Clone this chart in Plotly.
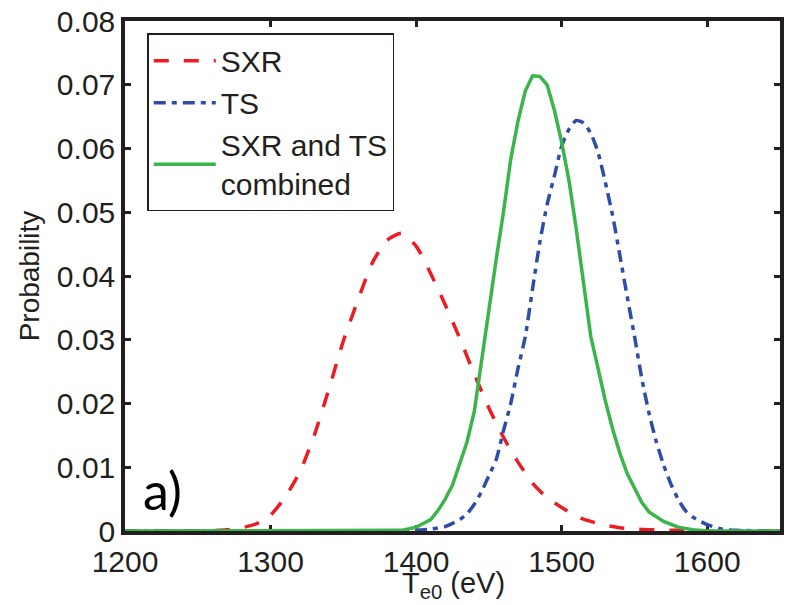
import plotly.graph_objects as go

# SXR estimate (red dashed)
sxr_x = [1200, 1250, 1270, 1280, 1290, 1300, 1310, 1320, 1330, 1340, 1350, 1360, 1370,
         1380, 1390, 1400, 1410, 1420, 1430, 1440, 1450, 1460, 1470, 1480, 1490, 1500,
         1510, 1520, 1530, 1540, 1550, 1560, 1580, 1600, 1650]
sxr_y = [0, 0, 0.0002, 0.0005, 0.0011, 0.0025, 0.0053, 0.0092, 0.0150, 0.0222, 0.0298,
         0.0362, 0.0421, 0.0456, 0.0467, 0.0447, 0.0404, 0.0355, 0.0302, 0.0246, 0.0193,
         0.0147, 0.0108, 0.0075, 0.0052, 0.0037, 0.0023, 0.0015, 0.0009, 0.0005, 0.0003,
         0.0002, 0.0001, 0, 0]

# TS estimate (blue dash-dot)
ts_x = [1200, 1380, 1400, 1410, 1420, 1425, 1430, 1435, 1440, 1445, 1450, 1455, 1460,
        1465, 1470, 1475, 1480, 1485, 1490, 1495, 1500, 1505, 1510, 1515, 1520, 1525,
        1530, 1535, 1540, 1545, 1550, 1555, 1560, 1565, 1570, 1575, 1580, 1585, 1590,
        1600, 1610, 1620, 1650]
ts_y = [0, 0, 0.0001, 0.0003, 0.0007, 0.0012, 0.0018, 0.0027, 0.0042, 0.0062, 0.0087,
        0.0112, 0.0157, 0.0200, 0.0255, 0.0305, 0.0380, 0.0453, 0.0512, 0.0557, 0.0604,
        0.0630, 0.0644, 0.0640, 0.0624, 0.0594, 0.0547, 0.0495, 0.0432, 0.0368, 0.0306,
        0.0240, 0.0185, 0.0140, 0.0104, 0.0074, 0.0050, 0.0032, 0.0022, 0.0010, 0.0003,
        0.0001, 0]

# Combined (green solid)
comb_x = [1200, 1380, 1390, 1400, 1410, 1415, 1420, 1425, 1430, 1435, 1440, 1445, 1450,
          1455, 1460, 1465, 1470, 1475, 1480, 1485, 1490, 1495, 1500, 1505, 1510, 1515,
          1520, 1525, 1530, 1535, 1540, 1545, 1550, 1555, 1560, 1570, 1580, 1590, 1600,
          1650]
comb_y = [0, 0, 0.0001, 0.0006, 0.0018, 0.0032, 0.0050, 0.0072, 0.0105, 0.0140, 0.0188,
          0.0270, 0.0353, 0.0426, 0.0500, 0.0583, 0.0643, 0.0690, 0.0714, 0.0713, 0.0700,
          0.0660, 0.0610, 0.0550, 0.0474, 0.0390, 0.0305, 0.0255, 0.0204, 0.0160, 0.0122,
          0.0090, 0.0066, 0.0045, 0.0030, 0.0015, 0.0006, 0.0002, 0, 0]

x_ticks = [1200, 1300, 1400, 1500, 1600]
y_ticks = [0, 0.01, 0.02, 0.03, 0.04, 0.05, 0.06, 0.07, 0.08]
y_tick_labels = ["0", "0.01", "0.02", "0.03", "0.04", "0.05", "0.06", "0.07", "0.08"]

FONT = "Liberation Sans, Arial, sans-serif"

fig = go.Figure()
fig.add_trace(go.Scatter(x=sxr_x, y=sxr_y, mode="lines", name="SXR",
                         line=dict(color="#ED1C24", width=3.5, dash="15px,15px",
                                   shape="spline", smoothing=0.6),
                         cliponaxis=False))
fig.add_trace(go.Scatter(x=ts_x, y=ts_y, mode="lines", name="TS",
                         line=dict(color="#2E4DA7", width=3.5, dash="12px,6px,5px,6px",
                                   shape="spline", smoothing=0.6),
                         cliponaxis=False))
fig.add_trace(go.Scatter(x=comb_x, y=comb_y, mode="lines", name="SXR and TS<br>combined",
                         line=dict(color="#39B54A", width=3.5),
                         cliponaxis=False))

fig.update_layout(
    width=788, height=605,
    margin=dict(l=125, r=4, t=19, b=74),
    paper_bgcolor="white", plot_bgcolor="white",
    font=dict(family=FONT, size=30, color="#231F20"),
    showlegend=True,
    legend=dict(x=0.034, y=0.976, xanchor="left", yanchor="top",
                bgcolor="white", bordercolor="#231F20", borderwidth=1.5,
                font=dict(size=30), tracegroupgap=0, itemwidth=62),
    annotations=[
        dict(text="a)", x=0.057, y=0.08, xref="paper", yref="paper",
             xanchor="center", yanchor="middle", showarrow=False,
             font=dict(family="Lato, Open Sans, sans-serif", size=52, color="#000")),
        dict(text="T<sub>e0</sub> (eV)", x=0.502, y=-0.066, xref="paper", yref="paper",
             xanchor="center", yanchor="top", showarrow=False,
             font=dict(family=FONT, size=29, color="#231F20")),
    ],
)
fig.update_xaxes(range=[1200, 1650], tickvals=x_ticks, ticks="inside", ticklen=6,
                 tickwidth=2.5, tickcolor="#231F20", showline=True, linewidth=3.5,
                 linecolor="#231F20", mirror="ticks", showgrid=False, zeroline=False,
                 layer="below traces", ticklabelstandoff=1)
fig.update_yaxes(range=[0, 0.08], tickvals=y_ticks, ticktext=y_tick_labels, ticks="inside",
                 ticklen=6, tickwidth=2.5, tickcolor="#231F20", showline=True,
                 linewidth=3.5, linecolor="#231F20", mirror="ticks", showgrid=False,
                 zeroline=False, layer="below traces",
                 title=dict(text="Probability", standoff=10, font=dict(size=28)))

fig.write_html("out.html")
